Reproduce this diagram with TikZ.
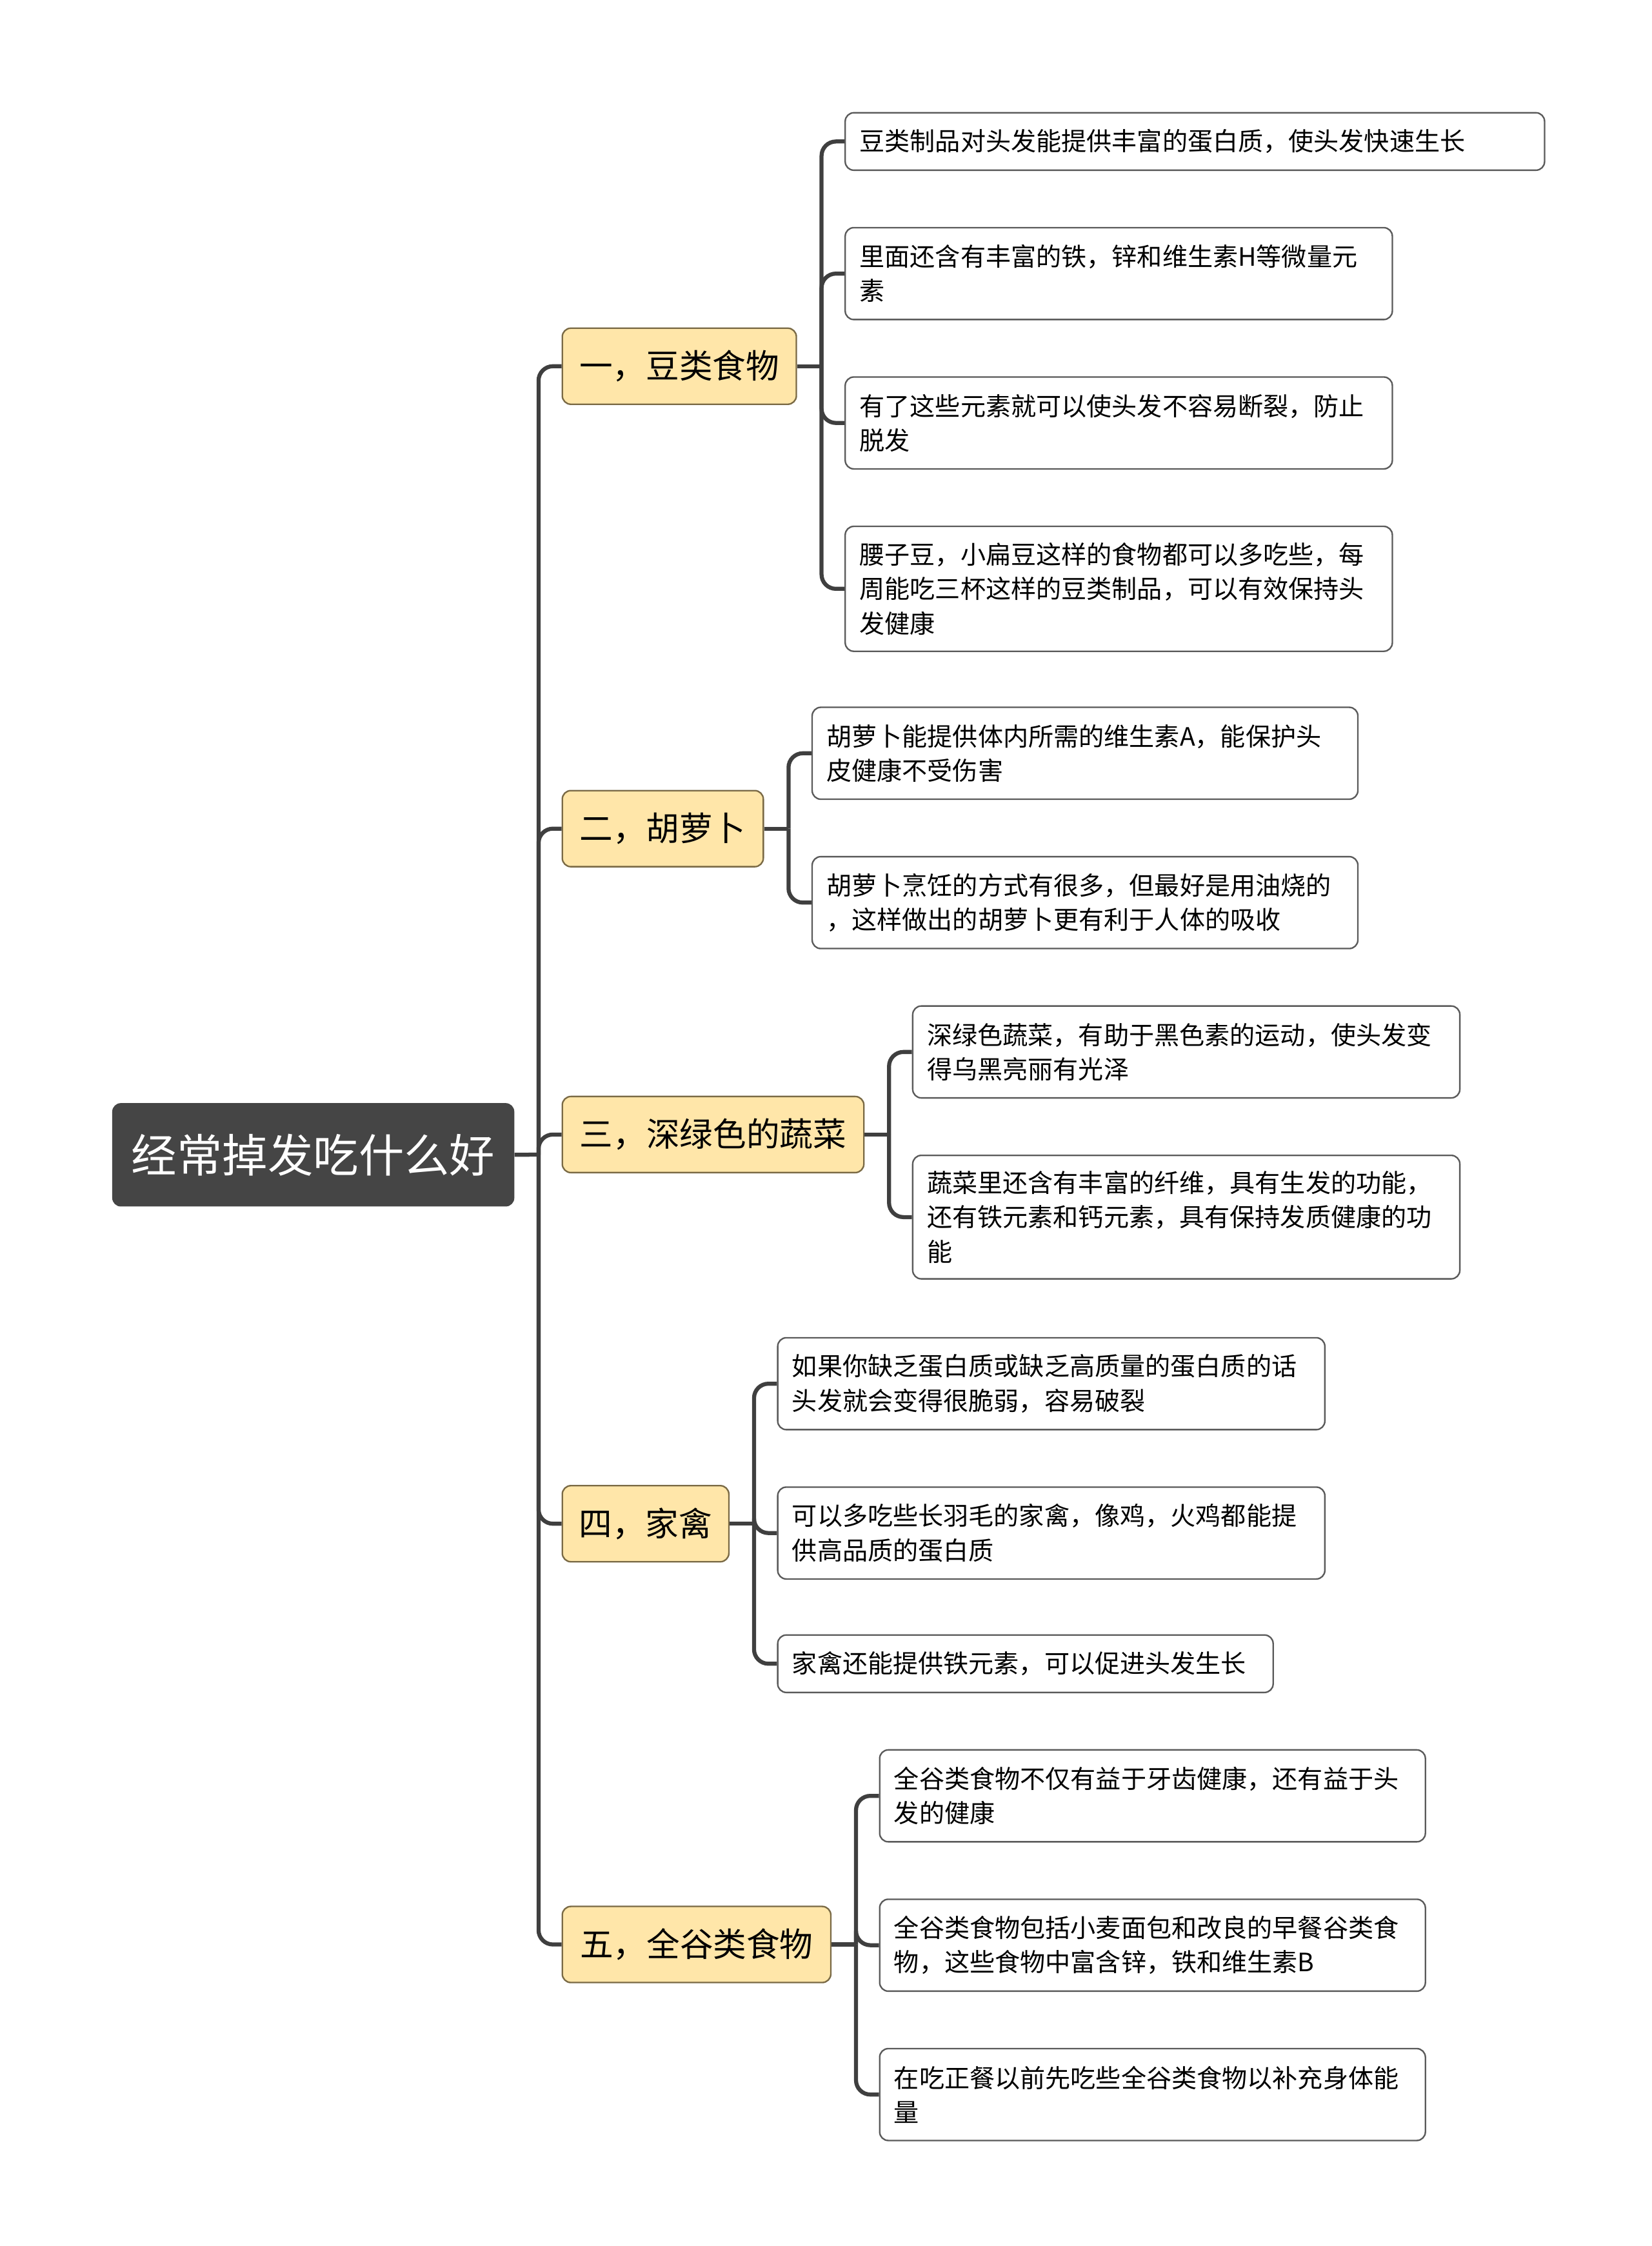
\documentclass[tikz,border=0pt]{standalone}
\usepackage{fontspec}
\setmainfont{Noto Sans CJK SC}
\definecolor{rootfill}{HTML}{454545}
\definecolor{topicfill}{HTML}{FFE6A9}
\definecolor{topicdraw}{HTML}{7A6A45}
\definecolor{linkcol}{HTML}{3F3F3F}
\definecolor{leafdraw}{HTML}{5A5A5A}
\begin{document}
\begin{tikzpicture}[
    x=0.05cm, y=-0.05cm,
    root/.style={rectangle, rounded corners=0.3cm, fill=rootfill, text=white, anchor=north west, inner sep=0pt, font=\fontsize{45}{54}\selectfont},
    topic/.style={rectangle, rounded corners=0.3cm, draw=topicdraw, line width=1.5pt, fill=topicfill, anchor=north west, inner sep=0pt, font=\fontsize{33}{40}\selectfont},
    leaf/.style={rectangle, rounded corners=0.3cm, draw=leafdraw, line width=1.5pt, fill=white, anchor=north west, inner xsep=0.5cm, inner ysep=0.45cm, align=left, font=\fontsize{25}{34}\selectfont},
    link/.style={draw=linkcol, line width=4pt, rounded corners=0.5cm}
]
    \useasboundingbox (0,0) rectangle (1150,1564);
    \node[root, minimum width=14cm, minimum height=3.6cm] (root) at (78,768) {经常掉发吃什么好};

    \node[topic, minimum width=8.15cm, minimum height=2.65cm] (beans) at (391,228) {一，豆类食物};
    \node[topic, minimum width=7cm, minimum height=2.65cm] (carrot) at (391,550) {二，胡萝卜};
    \node[topic, minimum width=10.5cm, minimum height=2.65cm] (greens) at (391,763) {三，深绿色的蔬菜};
    \node[topic, minimum width=5.8cm, minimum height=2.65cm] (poultry) at (391,1034) {四，家禽};
    \node[topic, minimum width=9.35cm, minimum height=2.65cm] (grains) at (391,1327) {五，全谷类食物};

    \node[leaf, text width=23.35cm, minimum height=2cm] (b1) at (588,78) {豆类制品对头发能提供丰富的蛋白质，使头发快速生长};
    \node[leaf, text width=18.05cm, minimum height=3.2cm] (b2) at (588,158) {里面还含有丰富的铁，锌和维生素H等微量元\\素};
    \node[leaf, text width=18.05cm, minimum height=3.2cm] (b3) at (588,262) {有了这些元素就可以使头发不容易断裂，防止\\脱发};
    \node[leaf, text width=18.05cm, minimum height=4.35cm] (b4) at (588,366) {腰子豆，小扁豆这样的食物都可以多吃些，每\\周能吃三杯这样的豆类制品，可以有效保持头\\发健康};

    \node[leaf, text width=18cm, minimum height=3.2cm] (c1) at (565,492) {胡萝卜能提供体内所需的维生素A，能保护头\\皮健康不受伤害};
    \node[leaf, text width=18cm, minimum height=3.2cm] (c2) at (565,596) {胡萝卜烹饪的方式有很多，但最好是用油烧的\\，这样做出的胡萝卜更有利于人体的吸收};

    \node[leaf, text width=18.05cm, minimum height=3.2cm] (g1) at (635,700) {深绿色蔬菜，有助于黑色素的运动，使头发变\\得乌黑亮丽有光泽};
    \node[leaf, text width=18.05cm, minimum height=4.3cm] (g2) at (635,804) {蔬菜里还含有丰富的纤维，具有生发的功能，\\还有铁元素和钙元素，具有保持发质健康的功\\能};

    \node[leaf, text width=18.05cm, minimum height=3.2cm] (p1) at (541,931) {如果你缺乏蛋白质或缺乏高质量的蛋白质的话\\头发就会变得很脆弱，容易破裂};
    \node[leaf, text width=18.05cm, minimum height=3.2cm] (p2) at (541,1035) {可以多吃些长羽毛的家禽，像鸡，火鸡都能提\\供高品质的蛋白质};
    \node[leaf, text width=16.25cm, minimum height=2cm] (p3) at (541,1138) {家禽还能提供铁元素，可以促进头发生长};

    \node[leaf, text width=18cm, minimum height=3.2cm] (w1) at (612,1218) {全谷类食物不仅有益于牙齿健康，还有益于头\\发的健康};
    \node[leaf, text width=18cm, minimum height=3.2cm] (w2) at (612,1322) {全谷类食物包括小麦面包和改良的早餐谷类食\\物，这些食物中富含锌，铁和维生素B};
    \node[leaf, text width=18cm, minimum height=3.2cm] (w3) at (612,1426) {在吃正餐以前先吃些全谷类食物以补充身体能\\量};

    % trunk
    \coordinate (trunk) at (375,804);
    \draw[link] (root.east) -- (trunk);
    \foreach \t in {beans,carrot,greens,poultry,grains}
        \draw[link] (trunk) |- (\t.west);

    % branches
    \foreach \t/\leaves in {beans/{b1,b2,b3,b4}, carrot/{c1,c2}, greens/{g1,g2}, poultry/{p1,p2,p3}, grains/{w1,w2,w3}} {
        \coordinate (\t-fork) at ([xshift=0.85cm]\t.east);
        \draw[link] (\t.east) -- (\t-fork);
        \foreach \l in \leaves
            \draw[link] (\t-fork) |- (\l.west);
    }
\end{tikzpicture}
\end{document}
